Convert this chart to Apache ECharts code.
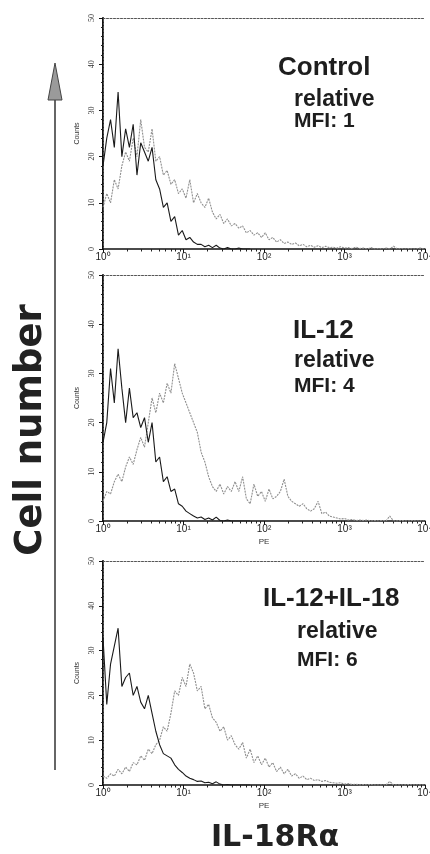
<!DOCTYPE html>
<html>
<head>
<meta charset="utf-8">
<script src="https://cdn.jsdelivr.net/npm/echarts@6/dist/echarts.min.js"></script>
<style>
  html, body { margin: 0; padding: 0; background: #fff; }
  #chart { width: 430px; height: 854px; }
</style>
</head>
<body>
<div id="chart"></div>
<script>
// channel numbers (256-channel log scale, 64 channels per decade), sampled every 3
const channels = [
  0, 3, 6, 9, 12, 15, 18, 21, 24, 27,
  30, 33, 36, 39, 42, 45, 48, 51, 54, 57,
  60, 63, 66, 69, 72, 75, 78, 81, 84, 87,
  90, 93, 96, 99, 102, 105, 108, 111, 114, 117,
  120, 123, 126, 129, 132, 135, 138, 141, 144, 147,
  150, 153, 156, 159, 162, 165, 168, 171, 174, 177,
  180, 183, 186, 189, 192, 195, 198, 201, 204, 207,
  210, 213, 216, 219, 222, 225, 228, 231, 234, 237,
  240, 243, 246, 249, 252, 255
];

const xTickLabels = ['10⁰', '10¹', '10²', '10³', '10⁴'];
const decadeChannels = [0, 64, 128, 192];
const minorSteps = [2, 3, 4, 5, 6, 7, 8, 9];

// control (isotype) histograms - black
const controlBlack = [
  18, 24, 28, 22, 34, 20, 26, 22, 27, 16,
  23, 21, 19, 22, 15, 13, 9, 10, 6, 7,
  3, 4, 2, 2.5, 1.5, 1, 1, 0.5, 0.8, 0.3,
  0.8, 0.2, 0, 0.3, 0, 0, 0.2, 0, 0, 0
];
const il12Black = [
  16, 20, 31, 24, 35, 27, 20, 27, 21, 22,
  19, 21, 16, 20, 12, 13, 8, 9, 6, 6.5,
  3.5, 3, 2, 1.5, 1, 0.6, 0.8, 0.3, 0.6, 0.2,
  0.8, 0.1, 0, 0.2, 0, 0, 0, 0, 0, 0
];
const il1218Black = [
  33, 18, 27, 31, 35, 22, 24, 25, 20, 22,
  18.5, 17, 20, 16, 12, 9, 7, 6.5, 6, 4.5,
  3.5, 2.8, 2, 1.5, 1.2, 0.8, 0.9, 0.5, 0.6, 0.3,
  0.7, 0.2, 0, 0.1, 0, 0, 0, 0, 0, 0
];

// IL-18Ra stained histograms - gray
const controlGray = [
  9, 12, 10, 15, 13, 18, 21, 19, 24, 20,
  28, 22, 21, 26, 19, 20, 16, 17, 14, 15,
  12, 13, 11, 15, 10, 12, 10, 9, 11, 8,
  6.5, 7.5, 5.5, 6.5, 5, 5.5, 4.5, 5, 3.5, 4,
  3, 3.5, 2.5, 3.5, 2, 2.5, 1.5, 2, 1.2, 1.5,
  1, 1.3, 0.7, 1, 0.5, 0.8, 0.4, 0.7, 0.3, 0.6,
  0.3, 0.4, 0.2, 0.5, 0.2, 0.3, 0.1, 0.4, 0.1, 0.2,
  0, 0.3, 0, 0.1, 0, 0.2, 0, 0.6, 0, 0.1,
  0, 0.1, 0, 0, 0.2, 0
];
const il12Gray = [
  4, 6, 5.5, 8, 9.5, 8, 11, 13, 11.5, 14.5,
  17, 15, 20, 25, 22, 26, 24, 28, 26, 32,
  29, 26, 24, 22, 20, 18, 14, 12, 9, 7,
  6, 7.5, 5.5, 7, 6, 8, 6, 9, 4.5, 3.5,
  7.5, 5, 6, 4, 6.5, 4.5, 5, 6, 8.5, 5,
  4, 3.5, 3, 3.5, 2.5, 2, 2.5, 4, 1.5, 1.8,
  1, 0.8, 0.6, 0.4, 0.5, 0.2, 0.3, 0.1, 0.2, 0.1,
  0.2, 0, 0.1, 0, 0.1, 0, 1, 0, 0, 0.1,
  0, 0, 0.1, 0, 0, 0
];
const il1218Gray = [
  2, 1.5, 2.5, 2, 3.5, 2.5, 4, 3, 5, 4.5,
  6.5, 5.5, 8, 7, 9, 10, 13, 12, 16, 21,
  20, 24, 22, 27, 25, 21, 22, 17, 18, 15,
  14, 12, 13, 10, 11, 9, 8, 9.5, 6, 8,
  5, 6.5, 4.5, 6, 4, 5, 3, 4, 2.5, 3.5,
  2, 2.5, 1.5, 2, 1.2, 1.5, 1, 1.2, 0.8, 1,
  0.6, 0.5, 0.4, 0.5, 0.2, 0.3, 0.1, 0.2, 0, 0.1,
  0, 0.1, 0, 0, 0, 0, 0.8, 0, 0, 0,
  0, 0.1, 0, 0, 0, 0
];

const panelTitles = ['Control', 'IL-12', 'IL-12+IL-18'];
const panelMfi = ['MFI: 1', 'MFI: 4', 'MFI: 6'];
const blackSets = [controlBlack, il12Black, il1218Black];
const graySets = [controlGray, il12Gray, il1218Gray];

// layout
const panelTops = [18, 275, 561];
const panelHeights = [231, 246, 224];
const showPE = [false, true, true];
const titleX = [278, 293, 263];
const subX = [294, 294, 297];
const titleY = [68, 331, 599];
const relY = [100, 361, 632];
const mfiY = [122, 387, 661];

const minorTickValues = [];
decadeChannels.forEach(d => {
  minorSteps.forEach(k => minorTickValues.push(d + 64 * Math.log10(k)));
});

const pairs = (vals) => vals.map((v, i) => [channels[i], v]);

const chart = echarts.init(document.getElementById('chart'));

const grids = [], xAxes = [], yAxes = [], series = [];
panelTops.forEach((top, i) => {
  grids.push({ left: 103, top: top, width: 322, height: panelHeights[i], show: false,
    outerBoundsMode: 'none', containLabel: false });
  // main bottom axis
  xAxes.push({
    type: 'value', gridIndex: i, min: 0, max: 256, interval: 64, position: 'bottom',
    name: showPE[i] ? 'PE' : '', nameLocation: 'middle', nameGap: 17,
    nameTextStyle: { fontSize: 8, color: '#333', fontFamily: 'Liberation Sans' },
    axisLine: { lineStyle: { color: '#111', width: 1.5 } },
    axisTick: { length: 4, lineStyle: { color: '#111' } },
    axisLabel: {
      margin: 3, fontSize: 10, color: '#222', fontFamily: 'Liberation Sans',
      formatter: (v) => xTickLabels[Math.round(v / 64)]
    },
    splitLine: { show: false }
  });
  // log-spaced minor ticks
  xAxes.push({
    type: 'value', gridIndex: i, min: 0, max: 256, position: 'bottom',
    axisLine: { show: false },
    axisTick: { show: true, length: 2.5, customValues: minorTickValues, lineStyle: { color: '#222' } },
    axisLabel: { show: false },
    splitLine: { show: false }
  });
  // top frame
  xAxes.push({
    type: 'value', gridIndex: i, min: 0, max: 256, position: 'top',
    axisLine: { show: true, lineStyle: { color: '#555', width: 1, type: [2, 1.5] } },
    axisTick: { show: false }, axisLabel: { show: false }, splitLine: { show: false }
  });
  yAxes.push({
    type: 'value', gridIndex: i, min: 0, max: 50, interval: 10, position: 'left',
    name: 'Counts', nameLocation: 'middle', nameGap: 19,
    nameTextStyle: { fontSize: 7, color: '#333', fontFamily: 'Liberation Sans' },
    axisLine: { show: true, lineStyle: { color: '#111', width: 2 } },
    axisTick: { show: true, length: 4, lineStyle: { color: '#111' } },
    minorTick: { show: true, splitNumber: 5, length: 2, lineStyle: { color: '#222' } },
    axisLabel: { rotate: 90, margin: 7, fontSize: 8, color: '#333', fontFamily: 'Liberation Sans Narrow' },
    splitLine: { show: false }
  });
  yAxes.push({
    type: 'value', gridIndex: i, min: 0, max: 50, position: 'right',
    axisLine: { show: true, lineStyle: { color: '#555', width: 1, type: [2, 1.5] } },
    axisTick: { show: false }, axisLabel: { show: false }, splitLine: { show: false }
  });

  series.push({
    type: 'line', xAxisIndex: i * 3, yAxisIndex: i * 2, data: pairs(graySets[i]),
    symbol: 'none', z: 2,
    lineStyle: { color: '#8f8f8f', width: 1.1, type: [2, 1] }
  });
  series.push({
    type: 'line', xAxisIndex: i * 3, yAxisIndex: i * 2, data: pairs(blackSets[i]),
    symbol: 'none', z: 3,
    lineStyle: { color: '#1a1a1a', width: 1.1 }
  });
});

const graphics = [];
panelTitles.forEach((t, i) => {
  graphics.push({ type: 'text', left: titleX[i], top: titleY[i] - 13,
    style: { text: t, font: 'bold 26px "Liberation Sans"', fill: '#1e1e1e' } });
  graphics.push({ type: 'text', left: subX[i], top: relY[i] - 12,
    style: { text: 'relative', font: 'bold 23px "Liberation Sans"', fill: '#1e1e1e' } });
  graphics.push({ type: 'text', left: subX[i], top: mfiY[i] - 11,
    style: { text: panelMfi[i], font: 'bold 21px "Liberation Sans"', fill: '#1e1e1e' } });
});
// vertical arrow
graphics.push({ type: 'line', shape: { x1: 55, y1: 770, x2: 55, y2: 98 },
  style: { stroke: '#333', lineWidth: 1.5 } });
graphics.push({ type: 'polygon', shape: { points: [[55, 63], [48, 100], [62, 100]] },
  style: { fill: '#9a9a9a', stroke: '#444', lineWidth: 1 } });
graphics.push({ type: 'text', x: 31, y: 430, rotation: Math.PI / 2,
  style: { text: 'Cell number', font: 'bold 37px "DejaVu Sans"', fill: '#222',
    align: 'center', verticalAlign: 'middle' } });
graphics.push({ type: 'text', x: 275, y: 838,
  style: { text: 'IL-18Rα', font: 'bold 30px "DejaVu Sans"', fill: '#222',
    align: 'center', verticalAlign: 'middle' } });

chart.setOption({
  animation: false,
  backgroundColor: '#fff',
  grid: grids,
  xAxis: xAxes,
  yAxis: yAxes,
  series: series,
  graphic: graphics
});
</script>
</body>
</html>
